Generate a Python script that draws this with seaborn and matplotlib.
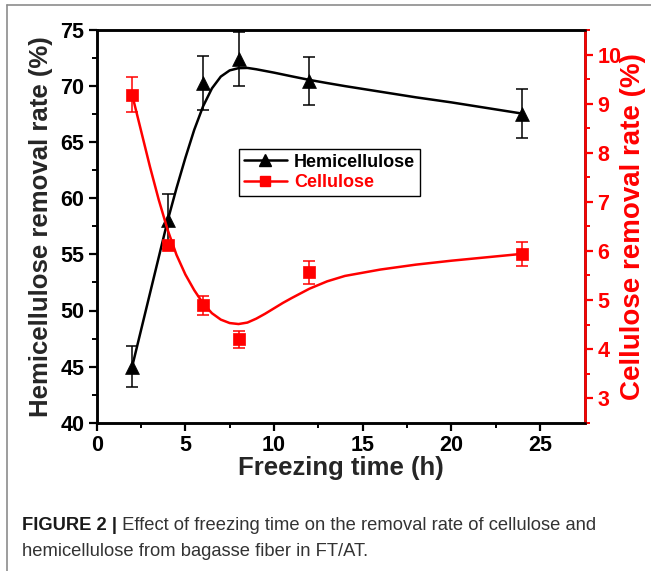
import matplotlib
matplotlib.use("Agg")
import matplotlib.pyplot as plt
import seaborn as sns
import pandas as pd
import numpy as np
from matplotlib.lines import Line2D

# ---------------- data ----------------
freeze_h = [2, 4, 6, 8, 12, 24]
hemi_rate = [45.0, 58.1, 70.25, 72.4, 70.45, 67.55]
hemi_err = [1.8, 2.3, 2.4, 2.4, 2.1, 2.2]
cell_rate = [9.18, 6.11, 4.89, 4.20, 5.56, 5.94]
cell_err = [0.36, 0.08, 0.19, 0.17, 0.24, 0.24]

# fitted curves
hemi_fit_x = [2, 3, 4, 4.5, 5, 5.5, 6, 6.5, 7, 7.5, 8, 8.5, 9, 10, 11, 12, 13, 14, 16, 18, 20, 22, 24]
hemi_fit_y = [45.0, 51.5, 58.0, 60.9, 63.6, 66.1, 68.2, 69.8, 70.85, 71.4, 71.6, 71.62, 71.5,
              71.2, 70.87, 70.55, 70.27, 70.0, 69.5, 69.0, 68.55, 68.05, 67.55]
cell_fit_x = [2, 2.5, 3, 3.5, 4, 4.5, 5, 5.5, 6, 6.5, 7, 7.5, 8, 8.5, 9, 9.5, 10, 10.5, 11, 12, 13,
              14, 16, 18, 20, 22, 24]
cell_fit_y = [9.18, 8.45, 7.72, 7.04, 6.43, 5.92, 5.52, 5.20, 4.93, 4.73, 4.60, 4.53, 4.51, 4.54,
              4.62, 4.72, 4.83, 4.94, 5.04, 5.23, 5.38, 5.49, 5.62, 5.72, 5.80, 5.87, 5.94]

x_ticks = [0, 5, 10, 15, 20, 25]
left_ticks = [40, 45, 50, 55, 60, 65, 70, 75]
right_ticks = [3, 4, 5, 6, 7, 8, 9, 10]

caption_bold = "FIGURE 2 |"
caption_line1 = " Effect of freezing time on the removal rate of cellulose and"
caption_line2 = "hemicellulose from bagasse fiber in FT/AT."

# ---------------- style ----------------
sns.set_style("ticks")
plt.rcParams["font.family"] = ["Liberation Sans", "DejaVu Sans"]
plt.rcParams["font.weight"] = "bold"

RED = "#ff0000"
BLK = "#000000"

pts = pd.DataFrame({"t": freeze_h, "hemi": hemi_rate, "hemi_err": hemi_err,
                    "cell": cell_rate, "cell_err": cell_err})
hemi_fit = pd.DataFrame({"t": hemi_fit_x, "v": hemi_fit_y})
cell_fit = pd.DataFrame({"t": cell_fit_x, "v": cell_fit_y})

fig = plt.figure(figsize=(6.51, 5.71), dpi=100)
W, H = 651, 571
ax_l, ax_r, ax_t, ax_b = 96.7, 585, 30, 422.7
ax = fig.add_axes([ax_l / W, 1 - ax_b / H, (ax_r - ax_l) / W, (ax_b - ax_t) / H])
ax2 = ax.twinx()

# left axis: hemicellulose
sns.lineplot(data=hemi_fit, x="t", y="v", ax=ax, color=BLK, lw=1.8, zorder=3)
ax.errorbar(pts["t"], pts["hemi"], yerr=pts["hemi_err"], fmt="none", ecolor=BLK,
            elinewidth=1.1, capsize=4, capthick=1.1, zorder=4)
sns.scatterplot(data=pts, x="t", y="hemi", ax=ax, marker="^", s=100, color=BLK,
                edgecolor=BLK, linewidth=0.5, zorder=5)

# right axis: cellulose
sns.lineplot(data=cell_fit, x="t", y="v", ax=ax2, color=RED, lw=1.8, zorder=3)
ax2.errorbar(pts["t"], pts["cell"], yerr=pts["cell_err"], fmt="none", ecolor=RED,
             elinewidth=1.1, capsize=4, capthick=1.1, zorder=4)
sns.scatterplot(data=pts, x="t", y="cell", ax=ax2, marker="s", s=70, color=RED,
                edgecolor=RED, linewidth=0.5, zorder=5)

ax.set_xlim(0, 27.54)
ax.set_ylim(40, 75)
ax2.set_ylim(2.5, 10.5)

ax.set_xticks(x_ticks)
ax.set_xticks(np.arange(2.5, 27.5, 5), minor=True)
ax.set_yticks(left_ticks)
ax.set_yticks(np.arange(42.5, 75, 5), minor=True)
ax2.set_yticks(right_ticks)
ax2.set_yticks(np.arange(2.5, 10.6, 1.0), minor=True)

ax.set_xlabel("Freezing time (h)", fontsize=18.5, fontweight="bold", labelpad=0)
ax.set_ylabel("Hemicellulose removal rate (%)", fontsize=18.5, fontweight="bold", labelpad=5)
ax2.set_ylabel("Cellulose removal rate (%)", fontsize=20, fontweight="bold", color=RED,
               labelpad=-1)

for a in (ax, ax2):
    for s in a.spines.values():
        s.set_linewidth(1.8)
        s.set_color(BLK)
ax2.spines["right"].set_color(RED)

ax.tick_params(axis="both", which="major", direction="out", length=6, width=1.6,
               labelsize=15.5, colors=BLK, pad=3)
ax.tick_params(axis="both", which="minor", direction="out", length=3.5, width=1.4, colors=BLK)
ax2.tick_params(axis="y", which="major", direction="out", length=6, width=1.6,
                labelsize=15.5, colors=RED, pad=3)
ax2.tick_params(axis="y", which="minor", direction="out", length=3.5, width=1.4, colors=RED)
for lab in ax.get_xticklabels() + ax.get_yticklabels() + ax2.get_yticklabels():
    lab.set_fontweight("bold")

# legend
handles = [Line2D([0], [0], color=BLK, lw=1.8, marker="^", markersize=9),
           Line2D([0], [0], color=RED, lw=1.8, marker="s", markersize=7.5)]
leg = fig.legend(handles, ["Hemicellulose", "Cellulose"], loc="upper left",
                 bbox_to_anchor=(239 / W, 1 - 149 / H), frameon=True, fancybox=False,
                 edgecolor=BLK, framealpha=1, borderaxespad=0, borderpad=0.25,
                 handlelength=2.4, handletextpad=0.4, labelspacing=0.2,
                 prop={"size": 13, "weight": "bold"})
leg.get_frame().set_linewidth(1.0)
leg.get_texts()[0].set_color(BLK)
leg.get_texts()[1].set_color(RED)

# frame around figure (left and top edges visible)
fig.add_artist(Line2D([7 / W, 7 / W], [0, 1 - 5 / H], transform=fig.transFigure,
                      color="#8c8c8c", lw=1.2))
fig.add_artist(Line2D([7 / W, 1], [1 - 5 / H, 1 - 5 / H], transform=fig.transFigure,
                      color="#8c8c8c", lw=1.2))

# caption
cap_fam = ["Liberation Sans", "DejaVu Sans"]
cap_size = 13.2
t1 = fig.text(22 / W, 1 - 526 / H, caption_bold, fontsize=cap_size, fontweight="bold",
              family=cap_fam, color="#1a1a1a", va="center", ha="left")
fig.canvas.draw()
bb = t1.get_window_extent(renderer=fig.canvas.get_renderer())
fig.text(bb.x1 / W, 1 - 526 / H, caption_line1, fontsize=cap_size, fontweight="normal",
         family=cap_fam, color="#333333", va="center", ha="left")
fig.text(22 / W, 1 - 552 / H, caption_line2, fontsize=cap_size, fontweight="normal",
         family=cap_fam, color="#333333", va="center", ha="left")

fig.savefig("out.png", dpi=100)
